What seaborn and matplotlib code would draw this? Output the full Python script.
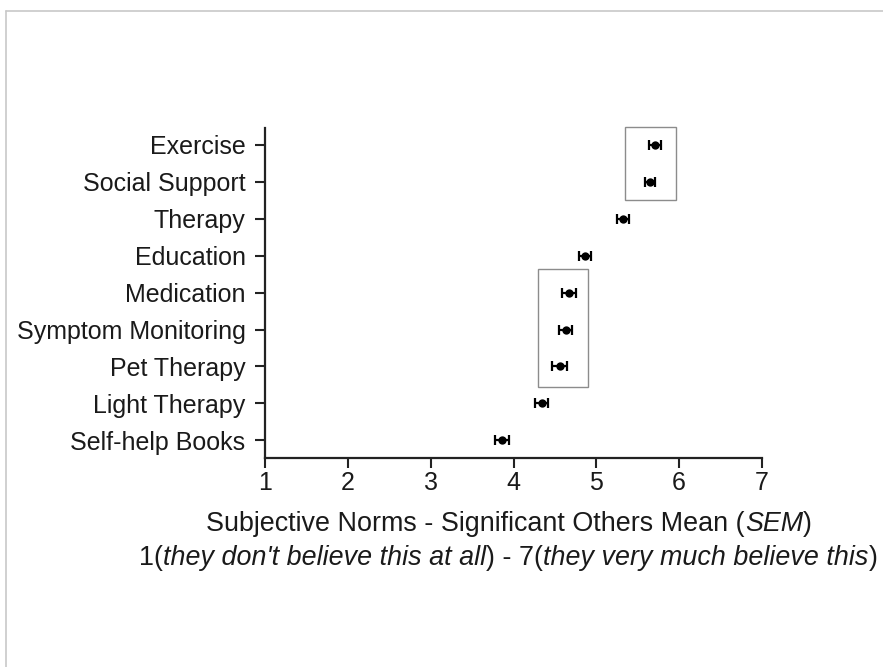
import matplotlib
matplotlib.use("Agg")
import matplotlib.pyplot as plt
from matplotlib.patches import Rectangle
from matplotlib.lines import Line2D
import seaborn as sns
import pandas as pd

categories = ["Exercise", "Social Support", "Therapy", "Education", "Medication",
              "Symptom Monitoring", "Pet Therapy", "Light Therapy", "Self-help Books"]
means = [5.71, 5.65, 5.32, 4.86, 4.67, 4.63, 4.56, 4.34, 3.86]
sems = [0.07, 0.06, 0.07, 0.07, 0.09, 0.08, 0.09, 0.08, 0.08]
x_ticks = [1, 2, 3, 4, 5, 6, 7]
# highlight boxes: (x_min, x_max, y_first_index_edge, y_last_index_edge)
boxes = [(5.35, 5.96, -0.5, 1.5), (4.30, 4.90, 3.37, 6.57)]

sns.set_theme(style="white")
plt.rcParams["font.family"] = ["Liberation Sans", "DejaVu Sans"]
FS = 18
FSL = 19.4

df = pd.DataFrame({"category": categories, "mean": means, "sem": sems})

fig = plt.figure(figsize=(8.83, 6.67), dpi=100)
ax = fig.add_axes([265 / 883, 1 - 458 / 667, (762 - 265) / 883, (458 - 128) / 667])

ax.errorbar(df["mean"], df["category"], xerr=df["sem"], fmt="none",
            ecolor="black", elinewidth=1.6, capsize=3.5, capthick=1.6, zorder=2)
sns.scatterplot(data=df, x="mean", y="category", ax=ax, color="black",
                s=36, edgecolor="black", linewidth=0, zorder=3, legend=False)

for x0, x1, y0, y1 in boxes:
    ax.add_patch(Rectangle((x0, y0), x1 - x0, y1 - y0, fill=False, clip_on=False,
                           edgecolor="#8c8c8c", linewidth=1.0, zorder=1))

ax.set_xlim(1, 7)
ax.set_ylim(8.48, -0.46)
ax.set_xticks(x_ticks)
ax.set_xticklabels([str(t) for t in x_ticks], fontsize=FS)
ax.set_yticks(range(len(categories)))
ax.set_yticklabels(categories, fontsize=FS)
ax.set_xlabel("")
ax.set_ylabel("")
for s in ["top", "right"]:
    ax.spines[s].set_visible(False)
for s in ["left", "bottom"]:
    ax.spines[s].set_color("#222222")
    ax.spines[s].set_linewidth(1.6)
ax.tick_params(axis="both", which="major", direction="out", length=7, width=1.5,
               color="#222222", labelcolor="#1a1a1a", bottom=True, left=True)
ax.tick_params(axis="y", pad=7)
ax.tick_params(axis="x", pad=2)
ax.set_facecolor("white")

# figure border lines
fig.add_artist(Line2D([6 / 883, 6 / 883], [0, 1 - 11 / 667], transform=fig.transFigure,
                      color="#c8c8c8", lw=1.2))
fig.add_artist(Line2D([6 / 883, 1], [1 - 11 / 667, 1 - 11 / 667], transform=fig.transFigure,
                      color="#c8c8c8", lw=1.2))


def rich_line(parts, cx, cy):
    renderer = fig.canvas.get_renderer()
    texts = []
    for s, italic in parts:
        t = fig.text(0, 1 - cy / 667, s, fontsize=FSL, color="#1a1a1a",
                     style="italic" if italic else "normal", va="center", ha="left")
        texts.append(t)
    widths = [t.get_window_extent(renderer).width for t in texts]
    total = sum(widths)
    x = cx - total / 2
    for t, w in zip(texts, widths):
        t.set_x(x / 883)
        x += w


rich_line([("Subjective Norms - Significant Others Mean (", False), ("SEM", True), (")", False)],
          509, 524)
rich_line([("1(", False), ("they don't believe this at all", True), (") - 7(", False),
           ("they very much believe this", True), (")", False)], 508.5, 558)

fig.savefig("out.png", dpi=100, facecolor="white")
